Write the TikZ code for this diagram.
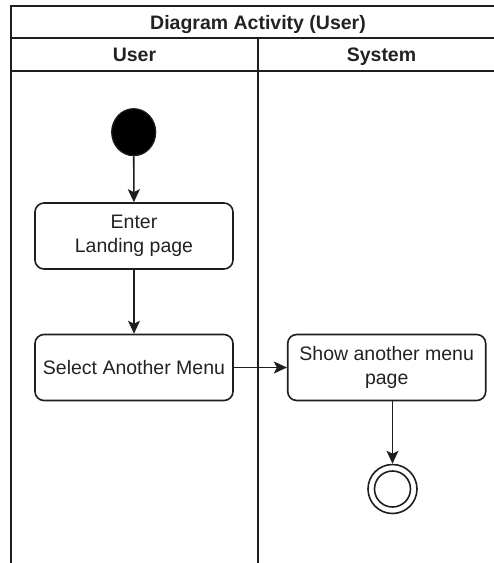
\documentclass[tikz,border=0pt]{standalone}
\usepackage{fontspec}
\setmainfont{Liberation Sans}
\usetikzlibrary{arrows.meta,shapes.geometric}
\definecolor{lineclr}{HTML}{1E1E1E}
\definecolor{txt}{HTML}{222222}
\begin{document}
\begin{tikzpicture}[x=1pt,y=-1pt,
  lane/.style={draw=lineclr, line width=1.6pt},
  action/.style={draw=lineclr, line width=1.6pt, rounded corners=9pt,
    minimum width=198pt, minimum height=66pt, align=center, text=txt,
    font=\fontsize{19.5}{24}\selectfont, inner sep=2pt},
  title/.style={font=\fontsize{19.5}{23}\selectfont\bfseries, text=txt,
    anchor=base},
  flow/.style={draw=lineclr, line width=1.6pt,
    -{Stealth[width=12pt,length=13pt,inset=3pt]}}
]
\useasboundingbox (0,0) rectangle (494,563);

% swimlane frame, running off the right and bottom edges
\begin{scope}
  \clip (0,0) rectangle (494,563);
  \draw[lane] (11,6) rectangle (505,600);
  \draw[lane] (11,38) -- (505,38);
  \draw[lane] (11,71) -- (505,71);
  \draw[lane] (258,38) -- (258,600);
\end{scope}

% headings
\node[title] (diag) at (258,29)   {Diagram Activity (User)};
\node[title] (user) at (134.5,61.5) {User};
\node[title] (sys)  at (381.5,61.5) {System};

% start state
\node[ellipse, draw=lineclr, fill=black, line width=1.2pt, inner sep=0pt,
      minimum width=44pt, minimum height=47pt] (start) at (133.7,132.2) {};

% actions
\node[action] (enter)  at (134,236)   {Enter\\Landing page};
\node[action] (select) at (134,367.5) {Select Another Menu};
\node[action] (show)   at (386.7,367.5) {Show another menu\\page};

% final state
\node[circle, draw=lineclr, line width=1.6pt, inner sep=0pt,
      minimum size=49pt] (end) at (392.5,489) {};
\draw[lineclr, line width=1.6pt] (end.center) circle (18);

% transitions
\draw[flow] (start) -- (enter);
\draw[flow] (enter) -- (select);
\draw[flow] (select) -- (show);
\draw[flow] (show.south -| end.north) -- (end.north);
\end{tikzpicture}
\end{document}
